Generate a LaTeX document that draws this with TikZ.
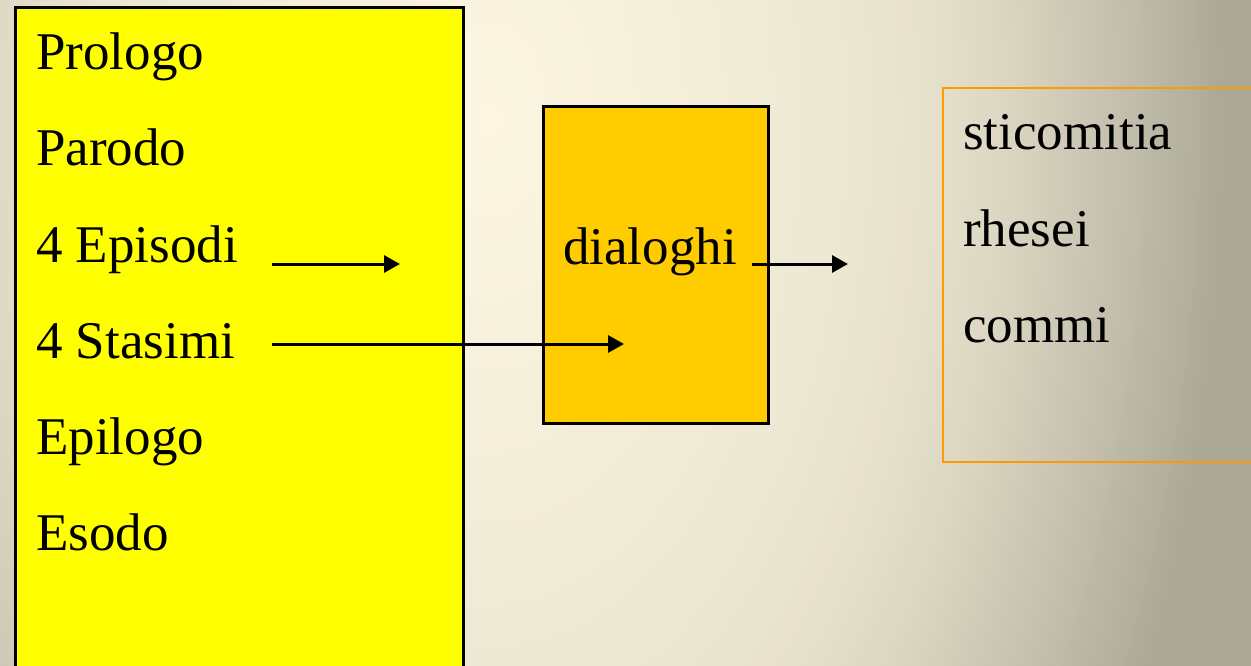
\documentclass[tikz,border=0pt]{standalone}
\usepackage{fontspec}
\setmainfont{Liberation Serif}
\usetikzlibrary{arrows.meta}
\definecolor{bgA}{HTML}{FCF6E2}
\definecolor{bgB}{HTML}{EDE8D3}
\definecolor{bgC}{HTML}{E8E2CD}
\definecolor{bgD}{HTML}{DCD8C4}
\definecolor{bgE}{HTML}{C4C0AD}
\definecolor{bgF}{HTML}{ABA898}
\definecolor{boxyellow}{HTML}{FFFF00}
\definecolor{boxorange}{HTML}{FFCC00}
\definecolor{lineorange}{HTML}{FF9900}
\newcommand\bgsegment[5]{%
  \foreach \k in {0,...,#5}{%
    \pgfmathsetmacro\rr{#1-((#1-#2)/#5)*\k}%
    \pgfmathsetmacro\pp{(100/#5)*\k}%
    \fill[color=#4!\pp!#3] (490,120) ellipse [x radius=\rr, y radius=1.7*\rr];
  }}
\tikzset{
  lbl/.style={anchor=base west, inner sep=0pt, font=\fontsize{53}{64}\selectfont},
  arr/.style={line width=3pt, -{Triangle[length=16pt,width=17pt]}},
  boxline/.style={line width=3pt},
}
\begin{document}
\begin{tikzpicture}[x=1pt,y=-1pt]
\useasboundingbox (0,0) rectangle (1251,666);
\clip (0,0) rectangle (1251,666);
\fill[bgF] (0,0) rectangle (1251,666);
\bgsegment{740}{630}{bgF}{bgE}{22}
\bgsegment{630}{510}{bgE}{bgD}{24}
\bgsegment{510}{430}{bgD}{bgC}{16}
\bgsegment{430}{350}{bgC}{bgB}{16}
\bgsegment{350}{2}{bgB}{bgA}{50}
% boxes
\draw[boxline, fill=boxyellow] (15,8) rectangle (463,700);
\draw[boxline, fill=boxorange] (543,107) rectangle (768,423);
\draw[line width=2.5pt, draw=lineorange] (943,88) rectangle (1290,462);
% left texts
\node[lbl] (pro) at (36,70) {Prologo};
\node[lbl] (par) at (36,166) {Parodo};
\node[lbl] (epi) at (36,262) {4 Episodi};
\node[lbl] (sta) at (36,358) {4 Stasimi};
\node[lbl] (epl) at (36,454) {Epilogo};
\node[lbl] (eso) at (36,550) {Esodo};
% middle
\node[lbl] (dia) at (563,264) {dialoghi};
% right
\node[lbl] (sti) at (963,150) {sticomitia};
\node[lbl] (rhe) at (963,246) {rhesei};
\node[lbl] (com) at (963,342) {commi};
% arrows
\coordinate (a1s) at (272,264);
\coordinate (a1e) at (400,264);
\coordinate (a2s) at (272,344);
\coordinate (a2e) at (624,344);
\coordinate (a3s) at (752,264);
\coordinate (a3e) at (848,264);
\draw[arr] (a1s) -- (a1e);
\draw[arr] (a2s) -- (a2e);
\draw[arr] (a3s) -- (a3e);
\end{tikzpicture}
\end{document}
